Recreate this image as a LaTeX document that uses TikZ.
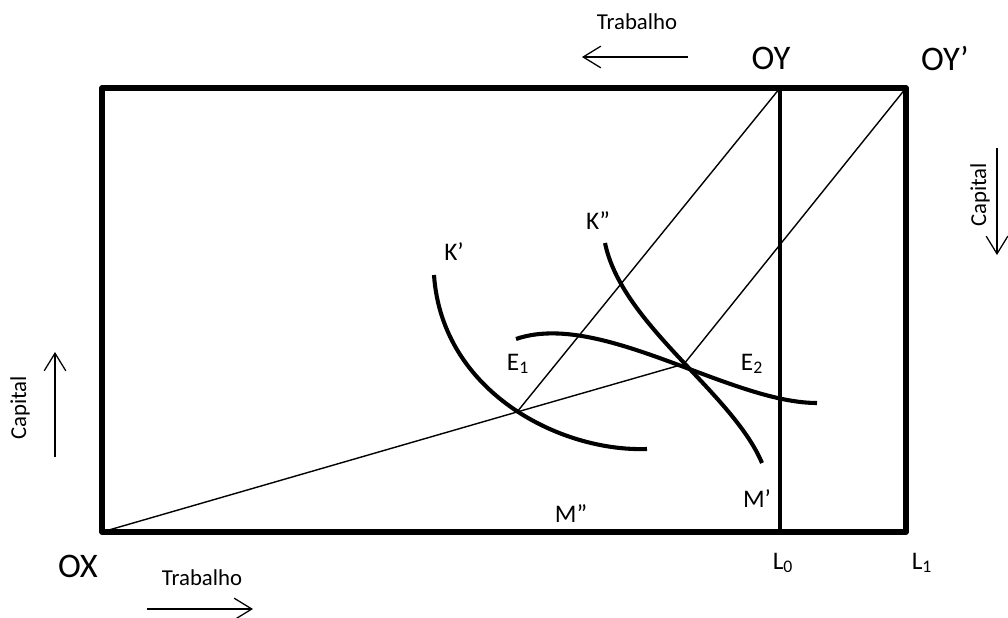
\documentclass[tikz,border=0pt]{standalone}
\usepackage{fontspec}
\setmainfont{Carlito}
\usepackage{tikz}
\usetikzlibrary{positioning,arrows.meta,calc}
\definecolor{edbox}{HTML}{000000}
\tikzset{
  frame/.style  ={draw=edbox, line width=4pt, line join=round},
  budget/.style ={draw=edbox, line width=3pt},
  curve/.style  ={draw=edbox, line width=2.9pt},
  ray/.style    ={draw=edbox, line width=1pt},
  dirarrow/.style={-{Straight Barb[length=4.4mm,width=5.4mm]}, line width=0.9pt},
  biglabel/.style ={font=\fontsize{24.5}{26}\selectfont, inner sep=0pt},
  ptlabel/.style  ={font=\fontsize{18}{20}\selectfont, inner sep=0pt},
  axlabel/.style  ={font=\fontsize{16.2}{18}\selectfont, inner sep=0pt},
}

\begin{document}
\begin{tikzpicture}[x=0.025cm,y=-0.025cm]
    \useasboundingbox (0,0) rectangle (1008,618);
    % --- Edgeworth box ---
    \coordinate (OX)  at (102,532);
    \coordinate (OY)  at (780,88);
    \coordinate (OYp) at (906,88);
    \coordinate (L0b) at (780,532);
    \coordinate (E1)  at (517,412);
    \coordinate (E2)  at (684,364);
    \draw[frame] (OX) rectangle (OYp);
    \draw[budget] (OY) -- (L0b);
    % rays from the origins
    \draw[ray] (OX) -- (E1) -- (E2);
    \draw[ray] (OY) -- (E1);
    \draw[ray] (OYp) -- (E2);
    % --- indifference curves ---
    \draw[curve] (434,275) .. controls (442,392) and (560,452) .. (647,449);
    \draw[curve] (605,243) .. controls (622,325) and (732,392) .. (762,463);
    \draw[curve] (516,339) .. controls (600,310) and (730,403) .. (817,403);
    % --- labels ---
    \node[biglabel] (lOX)  at (78,566)  {OX};
    \node[biglabel] (lOY)  at (771,58)  {OY};
    \node[biglabel] (lOYp) at (945,58)  {OY’};
    \node[ptlabel]  (lL0)  at (783,563) {L\textsubscript{0}};
    \node[ptlabel]  (lL1)  at (922,563) {L\textsubscript{1}};
    \node[ptlabel]  (lK1)  at (454,252) {K’};
    \node[ptlabel]  (lK2)  at (598,221) {K”};
    \node[ptlabel]  (lE1)  at (518,364) {E\textsubscript{1}};
    \node[ptlabel]  (lE2)  at (752,364) {E\textsubscript{2}};
    \node[ptlabel]  (lM1)  at (757,499) {M’};
    \node[ptlabel]  (lM2)  at (571,514) {M”};
    % --- directions ---
    \node[axlabel] (trTop) at (637,22) {Trabalho};
    \coordinate (trTopA) at (688,57);
    \coordinate (trTopB) at (582,57);
    \draw[dirarrow] (trTopA) -- (trTopB);
    \node[axlabel] (trBot) at (202,578) {Trabalho};
    \coordinate (trBotA) at (147,609);
    \coordinate (trBotB) at (253,609);
    \draw[dirarrow] (trBotA) -- (trBotB);
    \node[axlabel,rotate=90] (caLeft) at (20,408) {Capital};
    \coordinate (caLeftA) at (55,457);
    \coordinate (caLeftB) at (55,352);
    \draw[dirarrow] (caLeftA) -- (caLeftB);
    \node[axlabel,rotate=90] (caRight) at (980,195) {Capital};
    \coordinate (caRightA) at (997,148);
    \coordinate (caRightB) at (997,255);
    \draw[dirarrow] (caRightA) -- (caRightB);
\end{tikzpicture}
\end{document}
